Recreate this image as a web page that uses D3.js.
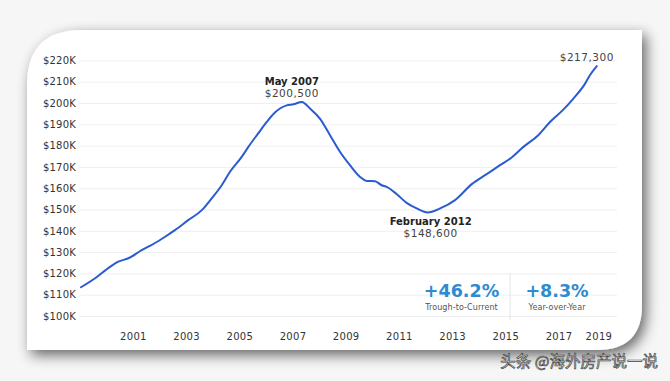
<!DOCTYPE html>
<html>
<head>
<meta charset="utf-8">
<script src="https://cdn.jsdelivr.net/npm/d3@7"></script>
<style>
  html, body { margin: 0; padding: 0; background: #f6f6f6; }
  svg { display: block; }
</style>
</head>
<body>
<svg id="chart" width="670" height="381"></svg>
<script>
// ---- data (decimal year, home value in $K) ----
const dates = [1999.05, 1999.58, 2000.14, 2000.45, 2000.83, 2001.33, 2001.77, 2002.21, 2002.58, 2003.08,
  2003.59, 2003.96, 2004.34, 2004.65, 2005.09, 2005.34, 2005.71, 2006.03, 2006.32, 2006.53,
  2006.78, 2007.03, 2007.35, 2007.66, 2008.03, 2008.41, 2008.79, 2009.16, 2009.54, 2009.79,
  2010.10, 2010.35, 2010.54, 2010.92, 2011.29, 2011.67, 2012.08, 2012.55, 2013.11, 2013.74,
  2014.30, 2014.80, 2015.24, 2015.68, 2016.24, 2016.68, 2017.18, 2017.56, 2018.00, 2018.18, 2018.44];
const values = [113.5, 117.7, 123.1, 125.5, 127.1, 130.9, 133.8, 137.2, 140.3, 145.0,
  149.7, 155.2, 161.4, 167.7, 174.7, 179.4, 185.7, 191.1, 195.3, 197.4,
  198.9, 199.4, 200.5, 197.4, 192.7, 184.9, 177.0, 170.8, 165.3, 163.4,
  163.3, 161.4, 160.6, 157.2, 153.1, 150.5, 148.6, 150.5, 154.4, 161.9,
  166.6, 170.8, 174.4, 179.4, 184.9, 191.1, 196.9, 202.1, 209.1, 213.0, 217.3];
const yTicks = [100, 110, 120, 130, 140, 150, 160, 170, 180, 190, 200, 210, 220];
const xTickYears = [2001, 2003, 2005, 2007, 2009, 2011, 2013, 2015, 2017, 2018.5];
const xTickLabels = ["2001", "2003", "2005", "2007", "2009", "2011", "2013", "2015", "2017", "2019"];
const annotations = [
  { date: 2007.35, value: 200.5, title: "May 2007", label: "$200,500", pos: "above" },
  { date: 2012.08, value: 148.6, title: "February 2012", label: "$148,600", pos: "below" },
  { date: 2018.44, value: 217.3, title: "", label: "$217,300", pos: "above" }
];
const stats = [
  { value: "+46.2%", label: "Trough-to-Current" },
  { value: "+8.3%", label: "Year-over-Year" }
];
const watermark = "头条 @海外房产说一说";

// ---- drawing ----
const svg = d3.select("#chart");
const FONT = "DejaVu Sans, sans-serif";

const defs = svg.append("defs");
const f = defs.append("filter").attr("id", "shadow").attr("x", "-10%").attr("y", "-10%").attr("width", "125%").attr("height", "130%");
f.append("feGaussianBlur").attr("in", "SourceAlpha").attr("stdDeviation", 7).attr("result", "b");
f.append("feOffset").attr("in", "b").attr("dx", 4).attr("dy", 5).attr("result", "o");
f.append("feComponentTransfer").attr("in", "o").attr("result", "s")
  .append("feFuncA").attr("type", "linear").attr("slope", 0.6);
const fm = f.append("feMerge");
fm.append("feMergeNode").attr("in", "s");
fm.append("feMergeNode").attr("in", "SourceGraphic");

// card with rounded top-left and bottom-right corners
const L = 27, T = 30, R = 642, B = 350, r1 = 55, r2 = 45;
const card = `M${L},${T + r1} Q${L},${T} ${L + r1},${T} L${R},${T} L${R},${B - r2} Q${R},${B} ${R - r2},${B} L${L},${B} Z`;
svg.append("path").attr("d", card).attr("fill", "#ffffff").attr("filter", "url(#shadow)");

const x = d3.scaleLinear().domain([1999, 2019]).range([292.5 - 8 * 26.6, 292.5 + 12 * 26.6]);
const y = d3.scaleLinear().domain([100, 220]).range([316, 60.4]);

// gridlines
svg.append("g").attr("transform", "translate(79,0)")
  .call(d3.axisLeft(y).tickValues(yTicks).tickSize(-538).tickFormat(""))
  .call(g => g.select(".domain").remove())
  .call(g => g.selectAll("line").attr("stroke", "#efefef"));

// y axis labels
svg.append("g").attr("transform", "translate(79,0)")
  .call(d3.axisLeft(y).tickValues(yTicks).tickSize(0).tickPadding(3).tickFormat(d => "$" + d + "K"))
  .call(g => g.select(".domain").remove())
  .call(g => g.selectAll("text").attr("font-family", FONT).attr("font-size", 10)
    .attr("fill", "#333").attr("letter-spacing", 0.2));

// x axis labels
svg.append("g").attr("transform", "translate(0,329.5)")
  .call(d3.axisBottom(x).tickValues(xTickYears).tickSize(0).tickPadding(3)
    .tickFormat((d, i) => xTickLabels[i]))
  .call(g => g.select(".domain").remove())
  .call(g => g.selectAll("text").attr("font-family", FONT).attr("font-size", 10)
    .attr("fill", "#333").attr("letter-spacing", 0.3));

// line
const line = d3.line().x((d, i) => x(dates[i])).y(d => y(d)).curve(d3.curveMonotoneX);
svg.append("path").datum(values).attr("d", line)
  .attr("fill", "none").attr("stroke", "#2a5bd0").attr("stroke-width", 2)
  .attr("stroke-linejoin", "round").attr("stroke-linecap", "round");

// annotations
annotations.forEach(a => {
  const ax = x(a.date) - (a.title ? 10 : 0), ay = y(a.value);
  const g = svg.append("g").attr("font-family", FONT).attr("text-anchor", "middle");
  if (a.pos === "above") {
    if (a.title) {
      g.append("text").attr("x", ax).attr("y", ay - 16.5).attr("font-size", 10).attr("font-weight", "bold")
        .attr("fill", "#222").text(a.title);
      g.append("text").attr("x", ax).attr("y", ay - 5).attr("font-size", 10.5).attr("fill", "#444")
        .attr("letter-spacing", 0.5).text(a.label);
    } else {
      g.append("text").attr("x", ax - 10).attr("y", ay - 5).attr("font-size", 10.5).attr("fill", "#444")
        .attr("letter-spacing", 0.5).text(a.label);
    }
  } else {
    g.append("text").attr("x", ax + 13).attr("y", ay + 12.5).attr("font-size", 10).attr("font-weight", "bold")
      .attr("fill", "#222").text(a.title);
    g.append("text").attr("x", ax + 13).attr("y", ay + 24.5).attr("font-size", 10.5).attr("fill", "#444")
      .attr("letter-spacing", 0.5).text(a.label);
  }
});

// stats boxes
const statX = d3.scalePoint().domain(stats.map(s => s.label)).range([461.5, 557]);
stats.forEach(s => {
  const g = svg.append("g").attr("font-family", FONT).attr("text-anchor", "middle");
  g.append("text").attr("x", statX(s.label)).attr("y", 297).attr("font-size", 17.5).attr("font-weight", "bold")
    .attr("fill", "#2e8bd0").text(s.value);
  g.append("text").attr("x", statX(s.label)).attr("y", 310).attr("font-size", 8).attr("fill", "#555")
    .attr("letter-spacing", 0.1).text(s.label);
});
svg.append("line").attr("x1", 510).attr("x2", 510).attr("y1", 273).attr("y2", 320)
  .attr("stroke", "#e4e4e4").attr("stroke-width", 1);

// watermark
svg.append("text").attr("x", 658).attr("y", 367).attr("text-anchor", "end")
  .attr("font-family", "Noto Sans CJK SC, sans-serif").attr("font-size", 15.5)
  .attr("fill", "#f4f4f4").attr("stroke", "#444").attr("stroke-width", 0.7)
  .text(watermark);
</script>
</body>
</html>
